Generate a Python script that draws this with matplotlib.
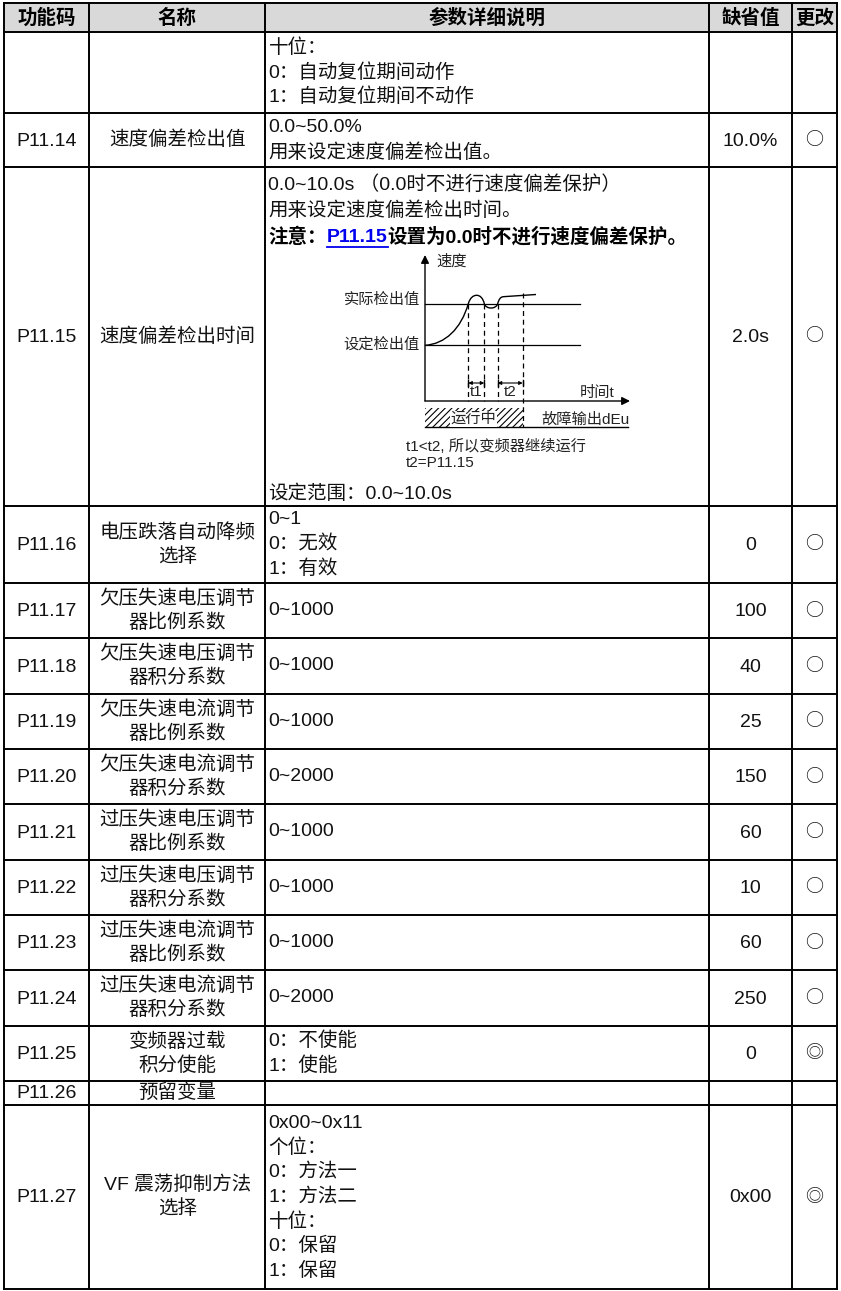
import matplotlib
matplotlib.use('Agg')
import matplotlib.pyplot as plt
from matplotlib.patches import Rectangle, PathPatch
from matplotlib.path import Path
import matplotlib.transforms as mtransforms

W, H, DPI = 841, 1291, 100
FONT = ['Liberation Sans', 'Noto Sans CJK SC', 'DejaVu Sans']
plt.rcParams['font.family'] = FONT
plt.rcParams['hatch.linewidth'] = 0.8

# ---------------- data ----------------
headers = ['功能码', '名称', '参数详细说明', '缺省值', '更改']
codes = ['', 'P11.14', 'P11.15', 'P11.16', 'P11.17', 'P11.18', 'P11.19', 'P11.20',
         'P11.21', 'P11.22', 'P11.23', 'P11.24', 'P11.25', 'P11.26', 'P11.27']
names = [[], ['速度偏差检出值'], ['速度偏差检出时间'], ['电压跌落自动降频', '选择'],
         ['欠压失速电压调节', '器比例系数'], ['欠压失速电压调节', '器积分系数'],
         ['欠压失速电流调节', '器比例系数'], ['欠压失速电流调节', '器积分系数'],
         ['过压失速电压调节', '器比例系数'], ['过压失速电压调节', '器积分系数'],
         ['过压失速电流调节', '器比例系数'], ['过压失速电流调节', '器积分系数'],
         ['变频器过载', '积分使能'], ['预留变量'], ['VF 震荡抑制方法', '选择']]
descs = [['十位：', '0：自动复位期间动作', '1：自动复位期间不动作'],
         ['0.0~50.0%', '用来设定速度偏差检出值。'],
         None,
         ['0~1', '0：无效', '1：有效'],
         ['0~1000'], ['0~1000'], ['0~1000'], ['0~2000'],
         ['0~1000'], ['0~1000'], ['0~1000'], ['0~2000'],
         ['0：不使能', '1：使能'], [],
         ['0x00~0x11', '个位：', '0：方法一', '1：方法二', '十位：', '0：保留', '1：保留']]
defaults = ['', '10.0%', '2.0s', '0', '100', '40', '25', '150', '60', '10', '60', '250', '0', '', '0x00']
changes = ['', '○', '○', '○', '○', '○', '○', '○', '○', '○', '○', '○', '◎', '', '◎']

p1115_top = ['0.0~10.0s （0.0时不进行速度偏差保护）', '用来设定速度偏差检出时间。']
p1115_note = ['注意：', 'P11.15', '设置为0.0时不进行速度偏差保护。']
p1115_bottom = '设定范围：0.0~10.0s'
diag_caption = ['t1<t2, 所以变频器继续运行', 't2=P11.15']

# ---------------- layout ----------------
col_edges = [4.5, 89.5, 265, 709, 792, 837]
row_edges = [3, 32, 113, 167, 506, 583, 638.3, 693.7, 749, 804.3, 859.7, 915,
             970.3, 1025.7, 1081, 1105, 1289]
LINE = 24.5
FS = 14
TXT = '#111111'

fig = plt.figure(figsize=(W / DPI, H / DPI), dpi=DPI)
ax = fig.add_axes([0, 0, 1, 1])
ax.set_xlim(0, W)
ax.set_ylim(H, 0)
ax.axis('off')

# header background
ax.add_patch(Rectangle((col_edges[0], row_edges[0]), col_edges[-1] - col_edges[0],
                       row_edges[1] - row_edges[0], facecolor='#d9d9d9', edgecolor='none', zorder=0))
for i, h in enumerate(headers):
    cx = (col_edges[i] + col_edges[i + 1]) / 2
    ax.text(cx, (row_edges[0] + row_edges[1]) / 2 + 1, h, ha='center', va='center',
            fontsize=14, fontweight='bold', color='black')

# grid lines
for y in row_edges:
    ax.plot([col_edges[0], col_edges[-1]], [y, y], color='black', lw=1.4, solid_capstyle='projecting')
for x in col_edges:
    ax.plot([x, x], [row_edges[0], row_edges[-1]], color='black', lw=1.4, solid_capstyle='projecting')

desc_x = col_edges[2] + 3.5


def lines_centered(lines, cy, step=LINE):
    n = len(lines)
    return [cy + (k - (n - 1) / 2) * step for k in range(n)]


for r in range(len(codes)):
    top, bot = row_edges[r + 1], row_edges[r + 2]
    cy = (top + bot) / 2
    if codes[r]:
        ax.text((col_edges[0] + col_edges[1]) / 2, cy + 1, codes[r], ha='center', va='center',
                fontsize=FS, color=TXT)
    nm = names[r]
    for y, t in zip(lines_centered(nm, cy, 24), nm):
        ax.text((col_edges[1] + col_edges[2]) / 2, y, t, ha='center', va='center', fontsize=FS, color=TXT)
    if descs[r] is not None:
        for y, t in zip(lines_centered(descs[r], cy), descs[r]):
            ax.text(desc_x, y, t, ha='left', va='center', fontsize=FS, color=TXT)
    if defaults[r]:
        ax.text((col_edges[3] + col_edges[4]) / 2, cy + 1, defaults[r], ha='center', va='center',
                fontsize=FS, color=TXT)
    if changes[r]:
        ax.text((col_edges[4] + col_edges[5]) / 2, cy, changes[r], ha='center', va='center',
                fontsize=13, color=TXT, family=['Noto Sans CJK SC', 'DejaVu Sans'])

# ---------------- P11.15 description ----------------
top15 = row_edges[3]
for k, t in enumerate(p1115_top):
    ax.text(desc_x, top15 + 17 + k * 26.5, t, ha='left', va='center', fontsize=FS, color=TXT)
ny = top15 + 17 + 2 * 26.5
fig.canvas.draw()
renderer = fig.canvas.get_renderer()
inv = ax.transData.inverted()
x = desc_x
for k, t in enumerate(p1115_note):
    col = '#0000ee' if k == 1 else 'black'
    tx = ax.text(x, ny, t, ha='left', va='center', fontsize=FS, fontweight='bold', color=col)
    bb = tx.get_window_extent(renderer)
    x0, _ = inv.transform((bb.x0, bb.y0))
    x1, _ = inv.transform((bb.x1, bb.y0))
    if k == 1:
        ax.plot([x0, x1], [ny + 10, ny + 10], color=col, lw=1.3)
    x = x1
ax.text(desc_x, row_edges[4] - 12, p1115_bottom, ha='left', va='center', fontsize=FS, color=TXT)

# ---------------- diagram (schematic units, origin at axis corner) ----------------
dT = mtransforms.Affine2D().scale(1, -1).translate(425, 401) + ax.transData
DC = '#222222'
actual_lvl, set_lvl = 97.3, 55.7
ax.annotate('', xy=(0, 146), xytext=(0, 0), xycoords=dT, textcoords=dT,
            arrowprops=dict(arrowstyle='-|>', lw=1.0, color='black', mutation_scale=12, shrinkA=0, shrinkB=0))
ax.annotate('', xy=(205, 0), xytext=(0, 0), xycoords=dT, textcoords=dT,
            arrowprops=dict(arrowstyle='-|>', lw=1.0, color='black', mutation_scale=12, shrinkA=0, shrinkB=0))
ax.plot([0, 155], [actual_lvl, actual_lvl], color='black', lw=0.9, transform=dT)
ax.plot([0, 155], [set_lvl, set_lvl], color='black', lw=0.9, transform=dT)

curve_verts = [(0, set_lvl), (20, 57), (36, 72), (43.3, actual_lvl),
               (45, 103), (48, 105.7), (51.7, 105.7),
               (55, 105.7), (58, 103), (59.3, actual_lvl),
               (61, 91.5), (71, 91.5), (72.7, actual_lvl),
               (74, 102), (75.5, 104), (78.3, 104.3),
               (111, 106.5)]
curve_codes = [Path.MOVETO] + [Path.CURVE4] * 15 + [Path.LINETO]
ax.add_patch(PathPatch(Path(curve_verts, curve_codes), facecolor='none', edgecolor='black', lw=1.0,
                       transform=dT))

for xd in [43.3, 59.3, 72.7]:
    ax.plot([xd, xd], [actual_lvl, 0], color='black', lw=0.9, ls=(0, (4, 3)), transform=dT)
ax.plot([97.7, 97.7], [108, -25.7], color='black', lw=0.9, ls=(0, (4, 3)), transform=dT)

for xa, xb, lab in [(43.3, 59.3, 't1'), (72.7, 97.7, 't2')]:
    ax.annotate('', xy=(xb, 18), xytext=(xa, 18), xycoords=dT, textcoords=dT,
                arrowprops=dict(arrowstyle='<|-|>', lw=0.8, color='black', mutation_scale=5,
                                shrinkA=0, shrinkB=0))
    for xe in (xa, xb):
        ax.plot([xe, xe], [15, 21], color='black', lw=1.0, transform=dT)
    ax.text((xa + xb) / 2, 8.5, lab, ha='center', va='center', fontsize=11, color=DC, transform=dT)

ax.text(-5, 101, '实际检出值', ha='right', va='center', fontsize=11, color=DC, transform=dT)
ax.text(-5, 56, '设定检出值', ha='right', va='center', fontsize=11, color=DC, transform=dT)
ax.text(11, 139, '速度', ha='left', va='center', fontsize=11, color=DC, transform=dT)
ax.text(190, 8.5, '时间t', ha='right', va='center', fontsize=11, color=DC, transform=dT)

ax.add_patch(Rectangle((0, -25.7), 97.7, 18.4, facecolor='white', edgecolor='black', lw=0,
                       hatch='/////', transform=dT, zorder=1))
ax.text(48.5, -18, '运行中', ha='center', va='center', fontsize=11, color=DC, transform=dT, zorder=3,
        bbox=dict(facecolor='white', edgecolor='none', pad=0.5))
ax.plot([0, 203], [-25.7, -25.7], color='black', lw=1.0, transform=dT)
ax.text(116.7, -18.5, '故障输出dEu', ha='left', va='center', fontsize=11, color=DC, transform=dT)

for k, t in enumerate(diag_caption):
    ax.text(-19.3, -45.3 - k * 16.7, t, ha='left', va='center', fontsize=11, color=DC, transform=dT)

fig.savefig('out.png', dpi=DPI)
